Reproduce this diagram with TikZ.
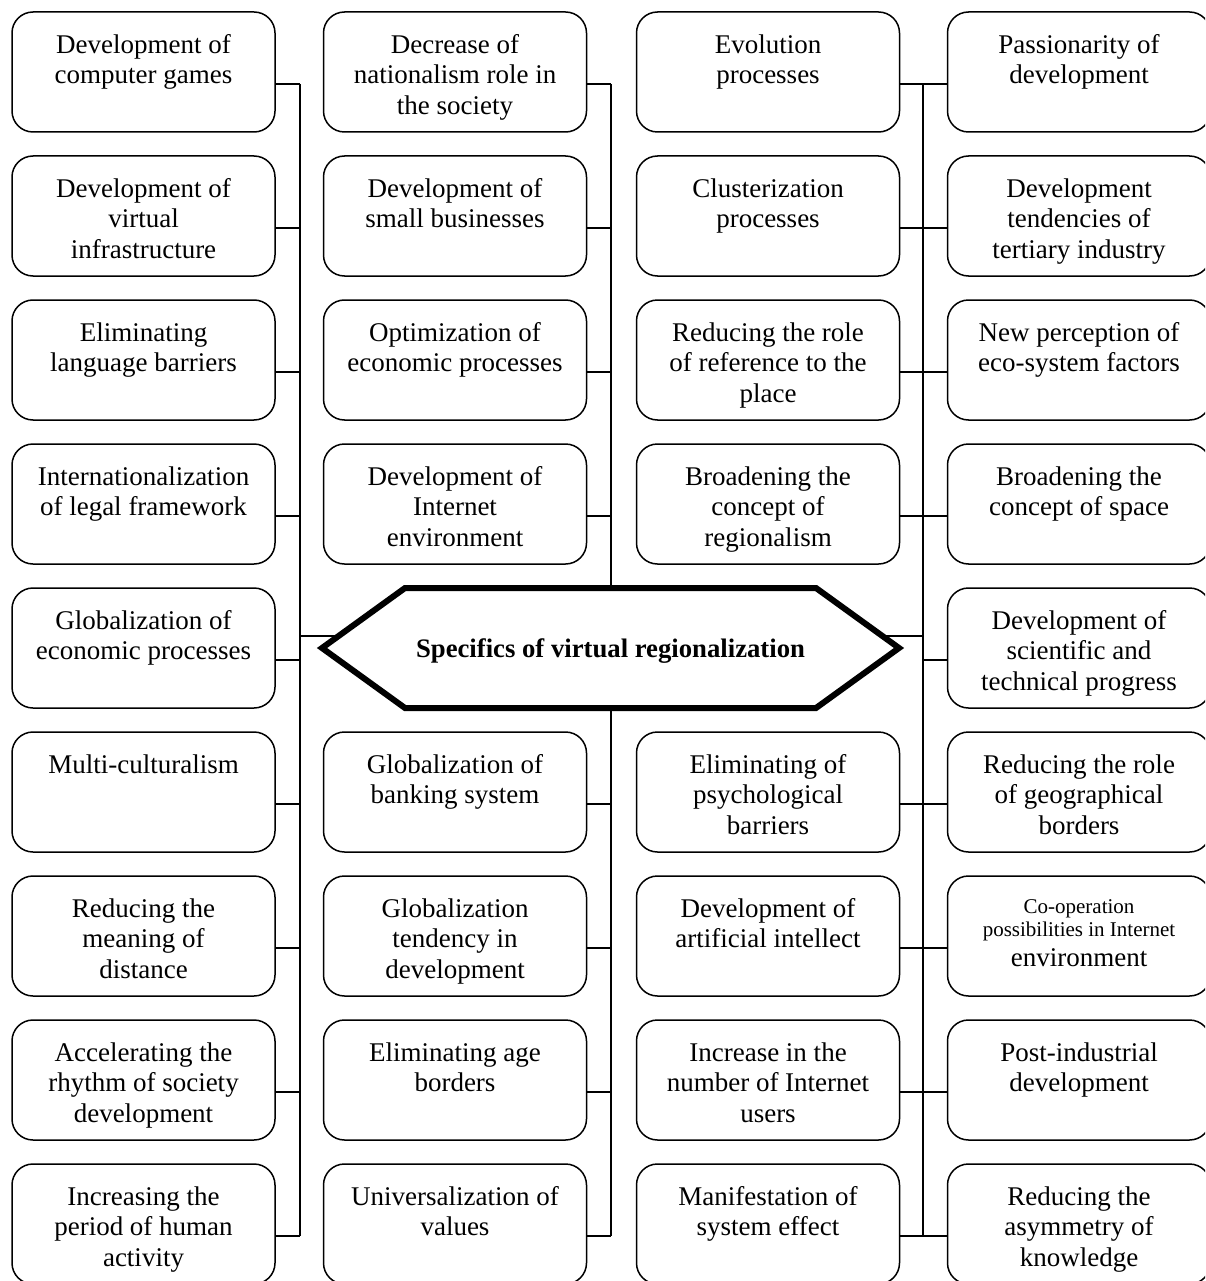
\documentclass[tikz,border=0pt]{standalone}
\usepackage{fontspec}
\setmainfont{Liberation Serif}
\newcommand\bxtext[1]{\parbox[c][120pt][t]{258pt}{\centering\fontsize{27}{30.3}\selectfont\rule{0pt}{41.5pt}#1}}
\tikzset{
  boxst/.style={draw, line width=1.5pt, rounded corners=21pt, inner sep=0pt,
    minimum width=263pt, minimum height=120pt, fill=white},
  conn/.style={line width=1.5pt},
  hexst/.style={line width=6pt, line join=miter},
  centertext/.style={inner sep=0pt, font=\bfseries\fontsize{26.7}{30}\selectfont}
}
\newcommand\mybox[4]{\node[boxst] (#1) at (#2,#3) {\bxtext{#4}};}
\begin{document}
\begin{tikzpicture}[x=1pt,y=-1pt]
\path[use as bounding box, clip] (0,0) rectangle (1205,1281);
\fill[white] (0,0) rectangle (1205,1281);

% trunk coordinates
\coordinate (tL) at (300,84);
\coordinate (bL) at (300,1236);
\coordinate (tM) at (611,84);
\coordinate (hT) at (611,588);
\coordinate (hB) at (611,708);
\coordinate (bM) at (611,1236);
\coordinate (tR) at (923,84);
\coordinate (bR) at (923,1236);

% hexagon
\coordinate (hW) at (322,648);
\coordinate (hNW) at (405,588);
\coordinate (hNE) at (816,588);
\coordinate (hE) at (899,648);
\coordinate (hSE) at (816,708);
\coordinate (hSW) at (405,708);
\coordinate (hL) at (339,636);
\coordinate (hR) at (882,636);
\coordinate (jL) at (300,636);
\coordinate (jR) at (923,636);

\draw[conn] (tL) -- (bL);
\draw[conn] (tM) -- (hT);
\draw[conn] (hB) -- (bM);
\draw[conn] (tR) -- (bR);
\draw[conn] (jL) -- (hL);
\draw[conn] (hR) -- (jR);

\draw[hexst, fill=white] (hW) -- (hNW) -- (hNE) -- (hE) -- (hSE) -- (hSW) -- cycle;
\node[centertext] (hex) at (610.5,651) {Specifics of virtual regionalization};

% column 1
\mybox{a1}{143.5}{72}{Development of\\computer games}
\mybox{a2}{143.5}{216}{Development of\\virtual\\infrastructure}
\mybox{a3}{143.5}{360}{Eliminating\\language barriers}
\mybox{a4}{143.5}{504}{Internationalization\\of legal framework}
\mybox{a5}{143.5}{648}{Globalization of\\economic processes}
\mybox{a6}{143.5}{792}{Multi-culturalism}
\mybox{a7}{143.5}{936}{Reducing the\\meaning of\\distance}
\mybox{a8}{143.5}{1080}{Accelerating the\\rhythm of society\\development}
\mybox{a9}{143.5}{1224}{Increasing the\\period of human\\activity}

% column 2
\mybox{b1}{455}{72}{Decrease of\\nationalism role in\\the society}
\mybox{b2}{455}{216}{Development of\\small businesses}
\mybox{b3}{455}{360}{Optimization of\\economic processes}
\mybox{b4}{455}{504}{Development of\\Internet\\environment}
\mybox{b6}{455}{792}{Globalization of\\banking system}
\mybox{b7}{455}{936}{Globalization\\tendency in\\development}
\mybox{b8}{455}{1080}{Eliminating age\\borders}
\mybox{b9}{455}{1224}{Universalization of\\values}

% column 3
\mybox{c1}{768}{72}{Evolution\\processes}
\mybox{c2}{768}{216}{Clusterization\\processes}
\mybox{c3}{768}{360}{Reducing the role\\of reference to the\\place}
\mybox{c4}{768}{504}{Broadening the\\concept of\\regionalism}
\mybox{c6}{768}{792}{Eliminating of\\psychological\\barriers}
\mybox{c7}{768}{936}{Development of\\artificial intellect}
\mybox{c8}{768}{1080}{Increase in the\\number of Internet\\users}
\mybox{c9}{768}{1224}{Manifestation of\\system effect}

% column 4
\mybox{d1}{1079}{72}{Passionarity of\\development}
\mybox{d2}{1079}{216}{Development\\tendencies of\\tertiary industry}
\mybox{d3}{1079}{360}{New perception of\\eco-system factors}
\mybox{d4}{1079}{504}{Broadening the\\concept of space}
\mybox{d5}{1079}{648}{Development of\\scientific and\\technical progress}
\mybox{d6}{1079}{792}{Reducing the role\\of geographical\\borders}
\node[boxst] (d7) at (1079,936) {\parbox[c][120pt][t]{258pt}{\centering\fontsize{21}{23.5}\selectfont\rule{0pt}{37pt}Co-operation\\possibilities in Internet\\[6.5pt]{\fontsize{27}{30}\selectfont environment}}};
\mybox{d8}{1079}{1080}{Post-industrial\\development}
\mybox{d9}{1079}{1224}{Reducing the\\asymmetry of\\knowledge}

% connectors to trunks
\foreach \n in {a1,a2,a3,a4,a5,a6,a7,a8,a9}
  \draw[conn] ([yshift=-12pt]\n.east) -- ([yshift=-12pt]\n.east -| tL);
\foreach \n in {b1,b2,b3,b4,b6,b7,b8,b9}
  \draw[conn] ([yshift=-12pt]\n.east) -- ([yshift=-12pt]\n.east -| tM);
\foreach \n in {c1,c2,c3,c4,c6,c7,c8,c9}
  \draw[conn] ([yshift=-12pt]\n.east) -- ([yshift=-12pt]\n.east -| tR);
\foreach \n in {d1,d2,d3,d4,d5,d6,d7,d8,d9}
  \draw[conn] ([yshift=-12pt]\n.west) -- ([yshift=-12pt]\n.west -| tR);
\end{tikzpicture}
\end{document}
